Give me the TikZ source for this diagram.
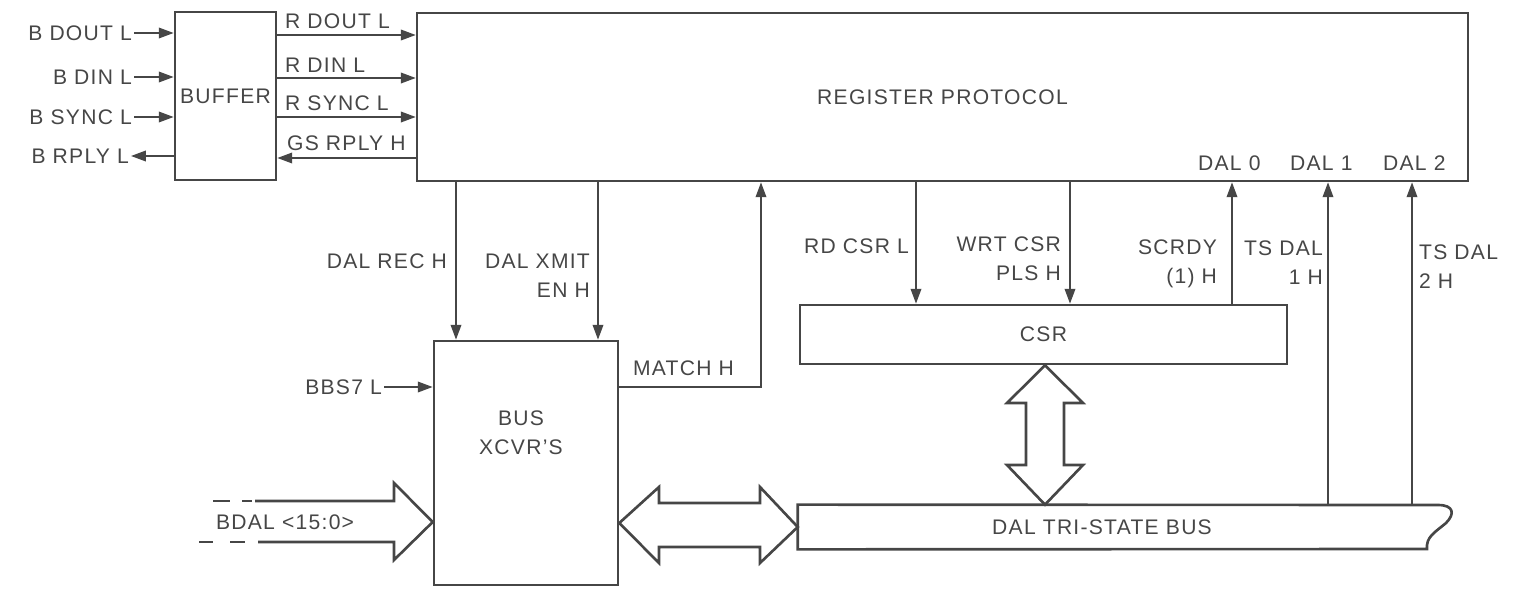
\documentclass[tikz,border=0pt]{standalone}
\usepackage{fontspec}
\setmainfont[LetterSpace=6]{Liberation Sans}
\usepackage{tikz}
\usetikzlibrary{arrows.meta,calc,positioning}
\definecolor{ink}{RGB}{70,70,70}

\begin{document}
\begin{tikzpicture}[x=0.02cm,y=-0.02cm,color=ink,
    font=\fontsize{12}{16.5}\selectfont,
    >={Triangle[length=8.5pt,width=6pt]},
    blk/.style={draw, line width=1.5pt, inner sep=0pt},
    sig/.style={line width=1.1pt},
    fat/.style={line width=1.5pt, line join=miter},
    lbl/.style={inner sep=1pt, text depth=0pt}]
    \useasboundingbox (0,0) rectangle (1535,592);
    % blocks
    \node[blk, minimum width=2.02cm, minimum height=3.36cm] (buf) at (225.5,96) {BUFFER};
    \node[blk, minimum width=21.02cm, minimum height=3.36cm] (rp) at (942.5,97) {REGISTER PROTOCOL};
    \node[blk, minimum width=3.68cm, minimum height=4.88cm] (xcvr) at (526,463) {};
    \node[align=center] (xcvrlbl) at (521,433) {BUS\\XCVR'S};
    \node[blk, minimum width=9.74cm, minimum height=1.18cm] (csr) at (1043.5,334.5) {CSR};
    \node[inner sep=0pt, minimum width=12.16cm, minimum height=0.88cm] (bus) at (1102,527) {DAL TRI-STATE BUS};
    \draw[fat] (bus.north west) -- (1438,505) .. controls (1454,505) and (1455,514) .. (1446,523)
      .. controls (1434,533) and (1426,537) .. (1427,549) -- (bus.south west) -- cycle;
    % bus side of the buffer
    \foreach \y/\nm/\txt in {33/bdout/B DOUT L, 77/bdin/B DIN L, 117/bsync/B SYNC L} {
      \node[lbl, anchor=east] (\nm) at (134,\y) {\txt};
      \draw[sig,->] (\nm.east) -- (\nm.east -| buf.west);
    }
    \node[lbl, anchor=east] (brply) at (131,156) {B RPLY L};
    \draw[sig,->] (brply.east -| buf.west) -- (brply.east);
    % buffer to register protocol
    \foreach \y/\by/\nm/\txt in {35/28/rdout/R DOUT L, 78/72/rdin/R DIN L, 117/110/rsync/R SYNC L} {
      \node[lbl, anchor=base west] (\nm) at (283,\by) {\txt};
      \draw[sig,->] (buf.east |- 0,\y) -- (rp.west |- 0,\y);
    }
    \node[lbl, anchor=base west] (gsrply) at (285,150) {GS RPLY H};
    \draw[sig,->] (rp.west |- 0,158) -- (buf.east |- 0,158);
    % transceivers
    \foreach \x in {456,598}
      \draw[sig,->] (\x,0 |- rp.south) -- (\x,0 |- xcvr.north);
    \node[lbl, anchor=base east] (dalrec) at (449,268) {DAL REC H};
    \node[lbl, anchor=base east, align=right] (dalxmit) at (592,297) {DAL XMIT\\EN H};
    \node[lbl, anchor=base west] (match) at (631,375) {MATCH H};
    \draw[sig,->] (xcvr.east |- 0,387) -| (761,0 |- rp.south);
    \node[lbl, anchor=east] (bbs) at (384,387) {BBS7 L};
    \draw[sig,->] (bbs.east) -- (bbs.east -| xcvr.west);
    % BDAL
    \node[lbl, anchor=west] (bdal) at (214,522) {BDAL <15:0>};
    \draw[fat] (255,501) -- (394,501) -- (394,483) -- (xcvr.west |- 0,522)
      -- (394,560) -- (394,542) -- (258,542);
    \draw[fat] (213,501) -- (230,501) (242,501) -- (252,501)
      (199,542) -- (213,542) (230,542) -- (245,542);
    % wide buses
    \draw[fat] (xcvr.east |- 0,523) -- (659,487) -- (659,503) -- (760,503) -- (760,487)
      -- (bus.west) -- (760,563) -- (760,547) -- (659,547) -- (659,563) -- cycle;
    \draw[fat] (1045,0 |- csr.south) -- (1083,403) -- (1064,403) -- (1064,465) -- (1083,465)
      -- (1045,0 |- bus.north) -- (1007,465) -- (1026,465) -- (1026,403) -- (1007,403) -- cycle;
    % CSR signals
    \foreach \x in {916,1070}
      \draw[sig,->] (\x,0 |- rp.south) -- (\x,0 |- csr.north);
    \draw[sig,->] (1232,0 |- csr.north) -- (1232,0 |- rp.south);
    \foreach \x in {1328,1412}
      \draw[sig,->] (\x,0 |- bus.north) -- (\x,0 |- rp.south);
    \node[lbl, anchor=base east] (rdcsr) at (911,253) {RD CSR L};
    \node[lbl, anchor=base east, align=right] (wrtcsr) at (1063,280) {WRT CSR\\PLS H};
    \node[lbl, anchor=base east, align=right] (scrdy) at (1219,283) {SCRDY\\(1) H};
    \node[lbl, anchor=base east, align=right] (tsdal1) at (1325,284) {TS DAL\\1 H};
    \node[lbl, anchor=base west, align=left] (tsdal2) at (1417,288) {TS DAL\\2 H};
    \foreach \x/\n in {1196/0,1288/1,1381/2}
      \node[lbl, anchor=base west] (dal\n) at (\x,170) {DAL \n};
\end{tikzpicture}
\end{document}
